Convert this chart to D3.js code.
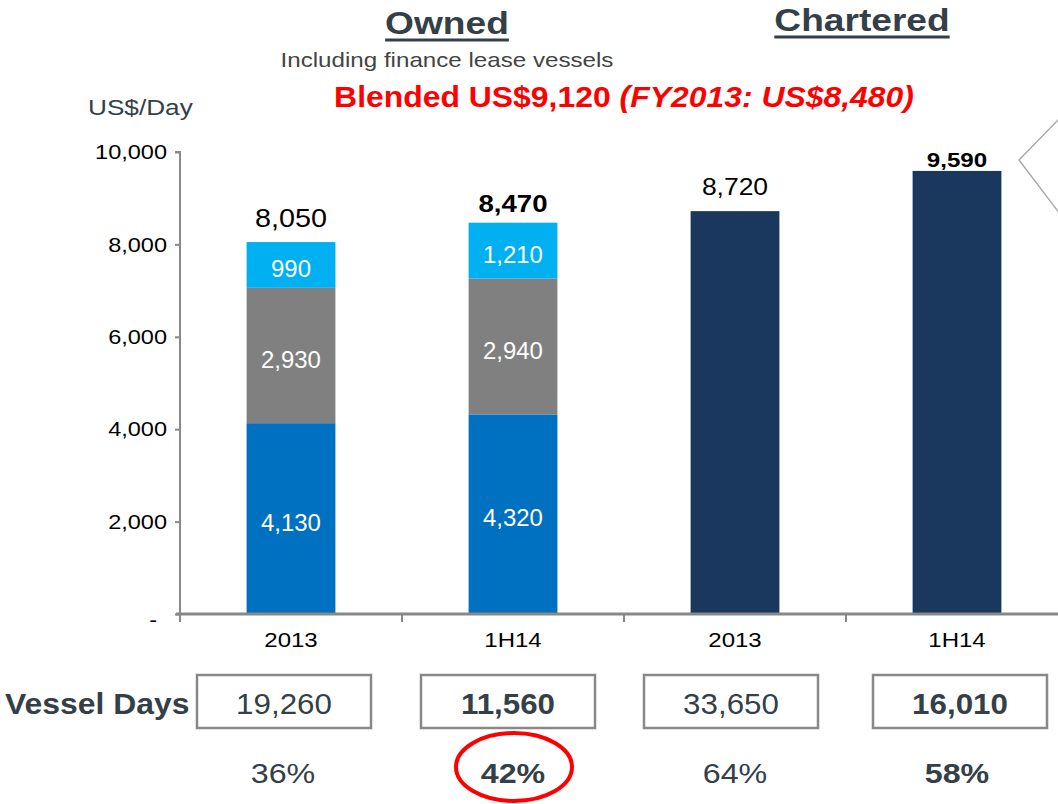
<!DOCTYPE html>
<html>
<head>
<meta charset="utf-8">
<script src="https://cdnjs.cloudflare.com/ajax/libs/d3/7.8.5/d3.min.js"></script>
<style>
  body { margin: 0; background: #fff; }
  svg { display: block; font-family: "Liberation Sans", Arial, sans-serif; }
</style>
</head>
<body>
<svg width="1058" height="804"></svg>
<script>
// categories (x axis)
const categories = ["Owned 2013", "Owned 1H14", "Chartered 2013", "Chartered 1H14"];
const tickLabels = ["2013", "1H14", "2013", "1H14"];

// stacked pieces for owned bars (bottom -> top)
const opexValues = [4130, 4320, null, null];
const depValues = [2930, 2940, null, null];
const financeValues = [990, 1210, null, null];
// single bars for chartered
const charterValues = [null, null, 8720, 9590];
const totals = [8050, 8470, 8720, 9590];
const totalBold = [false, true, false, true];

// bottom rows
const vesselDays = ["19,260", "11,560", "33,650", "16,010"];
const shares = ["36%", "42%", "64%", "58%"];

const yTicks = [0, 2000, 4000, 6000, 8000, 10000];

const svg = d3.select("svg");
const dark = "#343f48";

// the source slide has its text a bit wider than normal Arial
function stretch(sel, f) {
    sel.each(function() {
        const w = this.getComputedTextLength();
        d3.select(this).attr("textLength", w * f).attr("lengthAdjust", "spacingAndGlyphs");
    });
}

// scales
const x = d3.scaleBand()
    .domain(categories)
    .range([180, 1068])
    .padding(0);

const y = d3.scaleLinear()
    .domain([0, 10000])
    .range([614, 152]);

const barW = x.bandwidth() * 0.4;
const barX = c => x(c) + (x.bandwidth() - barW) / 2;
const mid = c => x(c) + x.bandwidth() / 2;

// build stack rows
const stackKeys = ["opex", "dep", "fin", "charter"];
const colors = { opex: "#0070C0", dep: "#808080", fin: "#00B0F0", charter: "#1A375E" };
const rows = categories.map((c, i) => ({
    cat: c,
    opex: opexValues[i] || 0,
    dep: depValues[i] || 0,
    fin: financeValues[i] || 0,
    charter: charterValues[i] || 0
}));
const series = d3.stack().keys(stackKeys)(rows);

// bars
series.forEach(s => {
    svg.append("g").selectAll("rect")
        .data(s.filter(d => d[1] > d[0]))
        .enter().append("rect")
        .attr("x", d => barX(d.data.cat))
        .attr("y", d => y(d[1]))
        .attr("width", barW)
        .attr("height", d => y(d[0]) - y(d[1]))
        .attr("fill", colors[s.key]);
});

// value labels inside the owned segments
series.filter(s => s.key !== "charter").forEach(s => {
    const lab = svg.append("g").selectAll("text")
        .data(s.filter(d => d[1] > d[0]))
        .enter().append("text")
        .attr("x", d => mid(d.data.cat))
        .attr("y", d => (y(d[0]) + y(d[1])) / 2 + 12)
        .attr("text-anchor", "middle")
        .attr("fill", "#fff")
        .style("font-size", "23px")
        .text(d => d3.format(",")(d[1] - d[0]));
    stretch(lab, 1.04);
});

// total labels
const totalSize = [25, 24, 23, 21];
const totalGap = [15, 11, 16, 4];
const totLab = svg.append("g").selectAll("text")
    .data(categories)
    .enter().append("text")
    .attr("x", c => mid(c))
    .attr("y", (c, i) => y(totals[i]) - totalGap[i])
    .attr("text-anchor", "middle")
    .attr("fill", "#000")
    .style("font-size", (c, i) => totalSize[i] + "px")
    .style("font-weight", (c, i) => totalBold[i] ? "bold" : "normal")
    .text((c, i) => d3.format(",")(totals[i]));
stretch(totLab, 1.15);

// y axis
const yAxis = svg.append("g")
    .attr("transform", "translate(180,0)")
    .call(d3.axisLeft(y).tickValues(yTicks).tickSize(5).tickPadding(8)
        .tickFormat(d => d === 0 ? "-" : d3.format(",")(d)));
yAxis.select(".domain").attr("stroke", "#888").attr("stroke-width", 2)
    .attr("d", "M-5,152H0V618");
yAxis.selectAll(".tick line").attr("stroke", "#888").attr("stroke-width", 2);
yAxis.selectAll(".tick text").style("font-size", "21px").attr("fill", "#000");
stretch(yAxis.selectAll(".tick text"), 1.12);
yAxis.selectAll(".tick").filter(d => d === 0).select("text").attr("dy", "0.6em").attr("dx", -10);

// x axis
const xAxis = svg.append("g")
    .attr("transform", "translate(0,614)")
    .call(d3.axisBottom(x).tickSize(0).tickPadding(19).tickFormat((c, i) => tickLabels[i]));
xAxis.select(".domain").attr("stroke", "#888").attr("stroke-width", 3)
    .attr("d", "M176,0H1058");
xAxis.selectAll(".tick text").style("font-size", "20px").attr("fill", "#000");
stretch(xAxis.selectAll(".tick text"), 1.2);
xAxis.selectAll(".sep")
    .data(categories)
    .enter().append("line")
    .attr("x1", c => x(c)).attr("x2", c => x(c))
    .attr("y1", 0).attr("y2", 8)
    .attr("stroke", "#888").attr("stroke-width", 2);

// headings
function underlined(txt, cx, base, size) {
    const t = svg.append("text")
        .attr("x", cx).attr("y", base)
        .attr("text-anchor", "middle")
        .attr("fill", dark)
        .style("font-size", size + "px")
        .style("font-weight", "bold")
        .text(txt);
    stretch(t, 1.16);
    const w = +t.attr("textLength");
    svg.append("line")
        .attr("x1", cx - w / 2).attr("x2", cx + w / 2)
        .attr("y1", base + 6).attr("y2", base + 6)
        .attr("stroke", dark).attr("stroke-width", 3);
}
underlined("Owned", 447, 34, 32);
underlined("Chartered", 862, 31, 32);

const sub = svg.append("text")
    .attr("x", 447).attr("y", 67)
    .attr("text-anchor", "middle")
    .attr("fill", "#444")
    .style("font-size", "21px")
    .text("Including finance lease vessels");
stretch(sub, 1.15);

const blended = svg.append("text")
    .attr("x", 624).attr("y", 107)
    .attr("text-anchor", "middle")
    .attr("fill", "#FF0000")
    .style("font-size", "29px")
    .style("font-weight", "bold");
blended.append("tspan").text("Blended US$9,120 ");
blended.append("tspan").style("font-style", "italic").text("(FY2013: US$8,480)");
stretch(blended, 1.1);

const unit = svg.append("text")
    .attr("x", 88).attr("y", 115)
    .attr("fill", dark)
    .style("font-size", "22px")
    .text("US$/Day");
stretch(unit, 1.19);

// callout edge on the right
svg.append("path")
    .attr("d", "M1060,118L1019,160L1060,214")
    .attr("fill", "none")
    .attr("stroke", "#aaa")
    .attr("stroke-width", 1.5);

// vessel days row
const vd = svg.append("text")
    .attr("x", 5).attr("y", 714)
    .attr("fill", dark)
    .style("font-size", "29px")
    .style("font-weight", "bold")
    .text("Vessel Days");
stretch(vd, 1.1);

const boxW = 174;
const boxShift = [-7, -5, -4, 3];
svg.append("g").selectAll("rect")
    .data(categories)
    .enter().append("rect")
    .attr("x", (c, i) => mid(c) + boxShift[i] - boxW / 2)
    .attr("y", 675)
    .attr("width", boxW)
    .attr("height", 53)
    .attr("fill", "#fff")
    .attr("stroke", "#888")
    .attr("stroke-width", 2.5);

const vdNum = svg.append("g").selectAll("text")
    .data(categories)
    .enter().append("text")
    .attr("x", (c, i) => mid(c) + boxShift[i])
    .attr("y", 714)
    .attr("text-anchor", "middle")
    .attr("fill", dark)
    .style("font-size", "29px")
    .style("font-weight", (c, i) => totalBold[i] ? "bold" : "normal")
    .text((c, i) => vesselDays[i]);
stretch(vdNum, 1.08);

const pct = svg.append("g").selectAll("text")
    .data(categories)
    .enter().append("text")
    .attr("x", (c, i) => mid(c) + (i === 0 ? -8 : 0))
    .attr("y", 783)
    .attr("text-anchor", "middle")
    .attr("fill", dark)
    .style("font-size", "28px")
    .style("font-weight", (c, i) => totalBold[i] ? "bold" : "normal")
    .text((c, i) => shares[i]);
stretch(pct, 1.15);

// red ring around the owned 1H14 share
svg.append("ellipse")
    .attr("cx", mid(categories[1]) + 1)
    .attr("cy", 767)
    .attr("rx", 58)
    .attr("ry", 34)
    .attr("fill", "none")
    .attr("stroke", "#FF0000")
    .attr("stroke-width", 4);
</script>
</body>
</html>
